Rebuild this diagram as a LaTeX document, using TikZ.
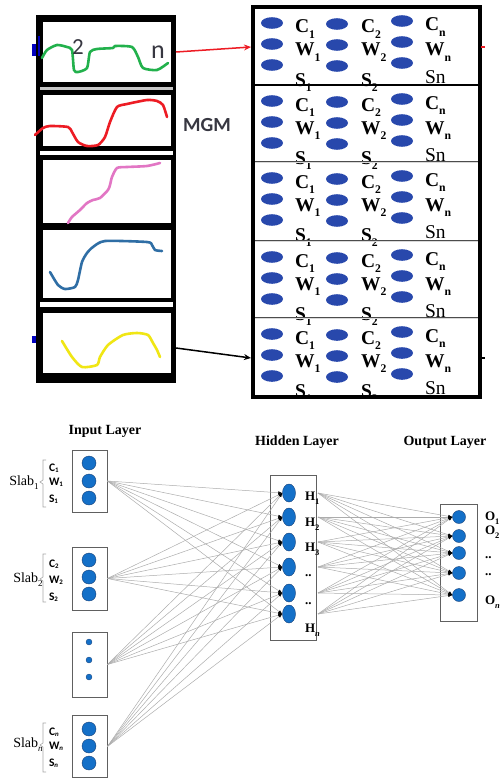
\documentclass[tikz,border=0pt]{standalone}
\usepackage{fontspec}
\setmainfont{Liberation Serif}
\newfontfamily\carl{Carlito}
\usetikzlibrary{arrows.meta,shapes.geometric}
\definecolor{ellblue}{RGB}{40,72,172}
\definecolor{nodeblue}{RGB}{20,112,200}
\definecolor{nodeedge}{RGB}{25,65,120}
\definecolor{cgreen}{RGB}{34,177,76}
\definecolor{cred}{RGB}{237,28,36}
\definecolor{cpink}{RGB}{226,118,196}
\definecolor{csteel}{RGB}{47,110,165}
\definecolor{cyellow}{RGB}{240,230,20}
\definecolor{txtgray}{RGB}{55,55,65}
\newcommand\dn[2][0.6]{\raisebox{-0.3em}{\scalebox{#1}{#2}}}
\newcommand\dns[1]{\raisebox{-0.12em}{\scalebox{0.6}{#1}}}
\tikzset{
  curve/.style={line width=2.6bp, line cap=round, line join=round},
  txt/.style={inner sep=0pt, outer sep=0pt},
  bigl/.style={txt, anchor=base west, font=\fontsize{19.5bp}{21bp}\selectfont\bfseries},
  ellp/.style={fill=ellblue},
  inbox/.style={draw=gray!75!black, line width=0.8bp, fill=white, inner sep=0pt},
  inc/.style={circle, fill=nodeblue, draw=nodeedge, line width=0.4bp, minimum size=14bp, inner sep=0pt},
  dotc/.style={circle, fill=nodeblue, draw=nodeedge, line width=0.3bp, minimum size=6bp, inner sep=0pt},
  hid/.style={ellipse, fill=nodeblue, draw=nodeedge, line width=0.4bp, minimum width=13bp, minimum height=18bp, inner sep=0pt},
  outc/.style={circle, fill=nodeblue, draw=nodeedge, line width=0.4bp, minimum size=13bp, inner sep=0pt},
  conn/.style={draw=gray!65, line width=0.5bp, -{Latex[length=4bp,width=3bp,black]}},
  title/.style={txt, font=\fontsize{14bp}{16bp}\selectfont\bfseries},
  slab/.style={txt, font=\fontsize{14bp}{16bp}\selectfont},
  cws/.style={txt, anchor=west, font=\carl\fontsize{11.5bp}{13bp}\selectfont\bfseries},
  hl/.style={txt, anchor=west, font=\fontsize{13bp}{15bp}\selectfont\bfseries},
  brace/.style={draw=gray!70, line width=0.6bp}
}
\begin{document}
\begin{tikzpicture}[x=1bp,y=-1bp]
\useasboundingbox (0,0) rectangle (502,780);
%%%%%%%% top-left frame with curves
\fill[black] (36,15) rectangle (176,383);
\fill[white] (43,22) rectangle (171,82);
\fill[white] (43,95) rectangle (171,146);
\fill[white] (43,160) rectangle (171,223);
\fill[white] (43,230) rectangle (171,298);
\fill[white] (43,313) rectangle (171,373);
\fill[gray!45] (40,87) rectangle (173,90);
\fill[white] (40,151) rectangle (173,155);
\fill[white] (40,302) rectangle (173,307);
\fill[blue!75!black] (32,44) rectangle (36,56);
\fill[blue!75!black] (38,36) rectangle (40,56);
\fill[blue!75!black] (32,336) rectangle (36,343);
\draw[curve, cgreen] plot[smooth, tension=0.4] coordinates {(42,58) (47,50) (57,45) (67,47) (72,50) (74,70) (78,72) (87,68) (90,52) (97,49) (113,48) (115,46) (132,47) (138,57) (143,68) (157,70) (168,63)};
\node[txt, font=\carl\fontsize{23bp}{24bp}\selectfont, text=txtgray] (two) at (78,47) {2};
\node[txt, font=\carl\fontsize{26bp}{28bp}\selectfont, text=txtgray] (nn) at (158,52) {n};
\draw[curve, cred] plot[smooth, tension=0.4] coordinates {(35,135) (43,128) (50,126) (68,127) (72,132) (78,142) (87,146) (98,145) (105,137) (110,122) (117,107) (127,104) (147,100) (157,101) (163,105) (167,117)};
\node[txt, font=\carl\fontsize{20bp}{22bp}\selectfont\bfseries, text=txtgray] (mgm) at (207,125) {MGM};
\draw[curve, cpink] plot[smooth, tension=0.4] coordinates {(68,223) (72,217) (80,210) (87,203) (93,200) (100,198) (108,190) (110,185) (112,177) (117,168) (127,167) (147,166) (160,163)};
\draw[curve, csteel] plot[smooth, tension=0.4] coordinates {(50,272) (58,285) (65,289) (75,287) (78,280) (82,262) (87,253) (93,247) (105,241) (147,242) (152,245) (155,250) (162,251)};
\draw[curve, cyellow] plot[smooth, tension=0.4] coordinates {(62,341) (72,357) (82,367) (97,365) (100,357) (108,345) (123,335) (137,333) (148,335) (153,343) (157,350) (160,357)};
%%%%%%%% arrows between panels
\coordinate (ga) at (176,52);
\coordinate (pa) at (251,47);
\coordinate (gb) at (176,348);
\coordinate (pb) at (251,358);
\draw[cred, line width=1.5bp, -{Stealth[length=7bp,width=6bp]}] (ga) -- (pa);
\draw[black, line width=1.5bp, -{Stealth[length=7bp,width=6bp]}] (gb) -- (pb);
%%%%%%%% top-right panel
\foreach \t in {7,85,162,241,318}{
  \foreach \x/\d in {272/0,337/1}{
    \fill[ellp] (\x,\t+16+\d) ellipse (11 and 5.8);
    \fill[ellp] (\x,\t+37+\d) ellipse (11 and 5.8);
    \fill[ellp] (\x,\t+58+\d) ellipse (11 and 5.8);
  }
  \fill[ellp] (402,\t+14) ellipse (11 and 5.8);
  \fill[ellp] (402,\t+35) ellipse (11 and 5.8);
  \fill[ellp] (402,\t+56) ellipse (11 and 5.8);
  \node[bigl] at (295,\t+26) {C\dn{1}};
  \node[bigl] at (295,\t+49) {W\dn{1}};
  \node[bigl] at (295,\t+79) {S\dn{1}};
  \node[bigl] at (361,\t+26) {C\dn{2}};
  \node[bigl] at (361,\t+49) {W\dn{2}};
  \node[bigl] at (361,\t+79) {S\dn{2}};
  \node[bigl] at (425,\t+24) {C\dn{n}};
  \node[bigl] at (425,\t+49) {W\dn{n}};
  \node[bigl, font=\fontsize{19.5bp}{21bp}\selectfont] at (425,\t+76) {Sn};
}
\fill[white] (251,398) rectangle (483,402);
\draw[black, line width=1.5bp] (253,85) -- (480,85);
\foreach \yy in {162,241,318}{
  \draw[gray!60!black, line width=2bp] (253,\yy) -- (480,\yy);
  \draw[gray!30, line width=0.6bp] (253,\yy) -- (480,\yy);
}
\draw[black, line width=3.5bp] (253,7) rectangle (480,397);
\draw[cred, line width=1.5bp] (481,47) -- (485,47);
\draw[black, line width=1.5bp] (481,358) -- (485,358);
%%%%%%%% bottom network
\node[title] (tin) at (105,431) {Input Layer};
\node[title] (thid) at (297,442) {Hidden Layer};
\node[title] (tout) at (445,442) {Output Layer};
% input boxes
\node[inbox, minimum width=35bp, minimum height=62bp] (ib1) at (89.5,481) {};
\node[inbox, minimum width=35bp, minimum height=63bp] (ib2) at (89.5,578.5) {};
\node[inbox, minimum width=35bp, minimum height=65bp] (ib3) at (89.5,664.5) {};
\node[inbox, minimum width=35bp, minimum height=62bp] (ib4) at (89.5,746.5) {};
\foreach \y [count=\k] in {463,481,498}{\node[inc] (ia\k) at (89,\y) {};}
\foreach \y [count=\k] in {560,577,594}{\node[inc] (ib\k c) at (89,\y) {};}
\foreach \y [count=\k] in {642,660,677}{\node[dotc] (ic\k) at (89,\y) {};}
\foreach \y [count=\k] in {729,746,763}{\node[inc] (id\k) at (89,\y) {};}
% hidden
\node[inbox, minimum width=46bp, minimum height=165bp] (hbox) at (293,557.5) {};
\foreach \y [count=\k] in {493,517,542,567,593,614}{
  \node[hid] (h\k) at (289,\y) {};
  \coordinate (ho\k) at (318,\y);
}
% output
\node[inbox, minimum width=37bp, minimum height=117bp] (obox) at (458.5,562.5) {};
\foreach \y [count=\k] in {517,536,553,573,595}{\node[outc] (o\k) at (459,\y) {};}
% connections
\foreach \i in {1,...,4}{\foreach \h in {1,...,6}{\draw[conn] (ib\i.east) -- (h\h.west);}}
\foreach \h in {1,...,6}{\foreach \o in {1,...,5}{\draw[conn] (ho\h) -- (o\o.west);}}
% slab labels
\node[slab] (s1) at (24,483) {Slab\dn[0.65]{1}};
\node[slab] (s2) at (28,580) {Slab\dn[0.65]{2}};
\node[slab] (s3) at (28,745) {Slab\dn[0.65]{\itshape n}};
\draw[brace] (46,460) -- (43,460) -- (43,480) -- (40,482) -- (43,484) -- (43,507) -- (46,507);
\draw[brace] (46,554) -- (43,554) -- (43,577) -- (40,579) -- (43,581) -- (43,602) -- (46,602);
\draw[brace] (46,723) -- (43,723) -- (43,743) -- (40,745) -- (43,747) -- (43,772) -- (46,772);
\node[cws] (c1) at (49,468) {C\dns{1}};
\node[cws] (w1) at (49,482) {W\dns{1}};
\node[cws] (sx1) at (49,499) {S\dns{1}};
\node[cws] (c2) at (49,564) {C\dns{2}};
\node[cws] (w2) at (49,580) {W\dns{2}};
\node[cws] (sx2) at (49,597) {S\dns{2}};
\node[cws] (c3) at (49,732) {C\dns{\itshape n}};
\node[cws] (w3) at (49,746) {W\dns{\itshape n}};
\node[cws] (sx3) at (49,763) {S\dns{\itshape n}};
% hidden labels
\node[hl] (lh1) at (305,498) {H\dn[0.65]{1}};
\node[hl] (lh2) at (305,524) {H\dn[0.65]{2}};
\node[hl] (lh3) at (305,549) {H\dn[0.65]{3}};
\node[hl] (lh4) at (305,576) {..};
\node[hl] (lh5) at (305,604) {..};
\node[hl] (lh6) at (305,630) {H\dn[0.65]{\itshape n}};
% output labels
\node[hl] (lo1) at (485,518) {O\dn[0.65]{1}};
\node[hl] (lo2) at (485,532) {O\dn[0.65]{2}};
\node[hl] (lo3) at (485,558) {..};
\node[hl] (lo4) at (485,575) {..};
\node[hl] (lo5) at (485,602) {O\dn[0.65]{\itshape n}};
\end{tikzpicture}
\end{document}
